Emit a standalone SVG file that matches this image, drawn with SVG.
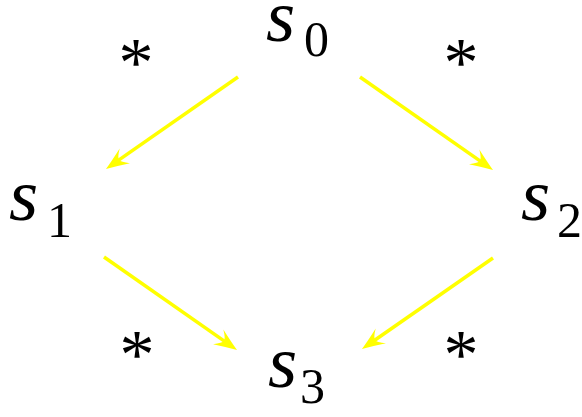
<svg xmlns="http://www.w3.org/2000/svg" width="582" height="417" viewBox="0 0 582 417">
<style>
.v{font-family:"Liberation Serif",serif;font-style:italic;font-size:75px;fill:#000}
.d{font-family:"Liberation Serif",serif;font-size:50px;fill:#000}
.a{font-family:"Liberation Serif",serif;font-size:70px;fill:#000;text-anchor:middle}
.e{stroke:#ffff00;stroke-width:3.5;fill:none;marker-end:url(#ah)}
</style>
<defs>
<marker id="ah" markerUnits="userSpaceOnUse" orient="auto" refX="-12" refY="0" markerWidth="30" markerHeight="30" overflow="visible">
<path d="M0,0 Q-10,-3.5 -23,-9 Q-16,-3 -16,0 Q-16,3 -23,9 Q-10,3.5 0,0Z" fill="#ffff00"/>
</marker>
</defs>
<g id="s0"><text class="v" x="266" y="41">s</text><text class="d" x="304" y="56">0</text></g>
<g id="s1"><text class="v" x="9" y="220">s</text><text class="d" x="47" y="237">1</text></g>
<g id="s2"><text class="v" x="521" y="220">s</text><text class="d" x="557" y="237">2</text></g>
<g id="s3"><text class="v" x="268" y="387">s</text><text class="d" x="300" y="403">3</text></g>
<g id="labels">
<text class="a" x="136" y="86">*</text>
<text class="a" x="461" y="86">*</text>
<text class="a" x="137" y="378">*</text>
<text class="a" x="461" y="378">*</text>
</g>
<g id="connectors">
<path class="e" d="M238,77 L115.8,162.1"/>
<path class="e" d="M360,77 L483.2,163.1"/>
<path class="e" d="M104,257 L227.2,343.1"/>
<path class="e" d="M493,258 L371.8,342.2"/>
</g>
</svg>
